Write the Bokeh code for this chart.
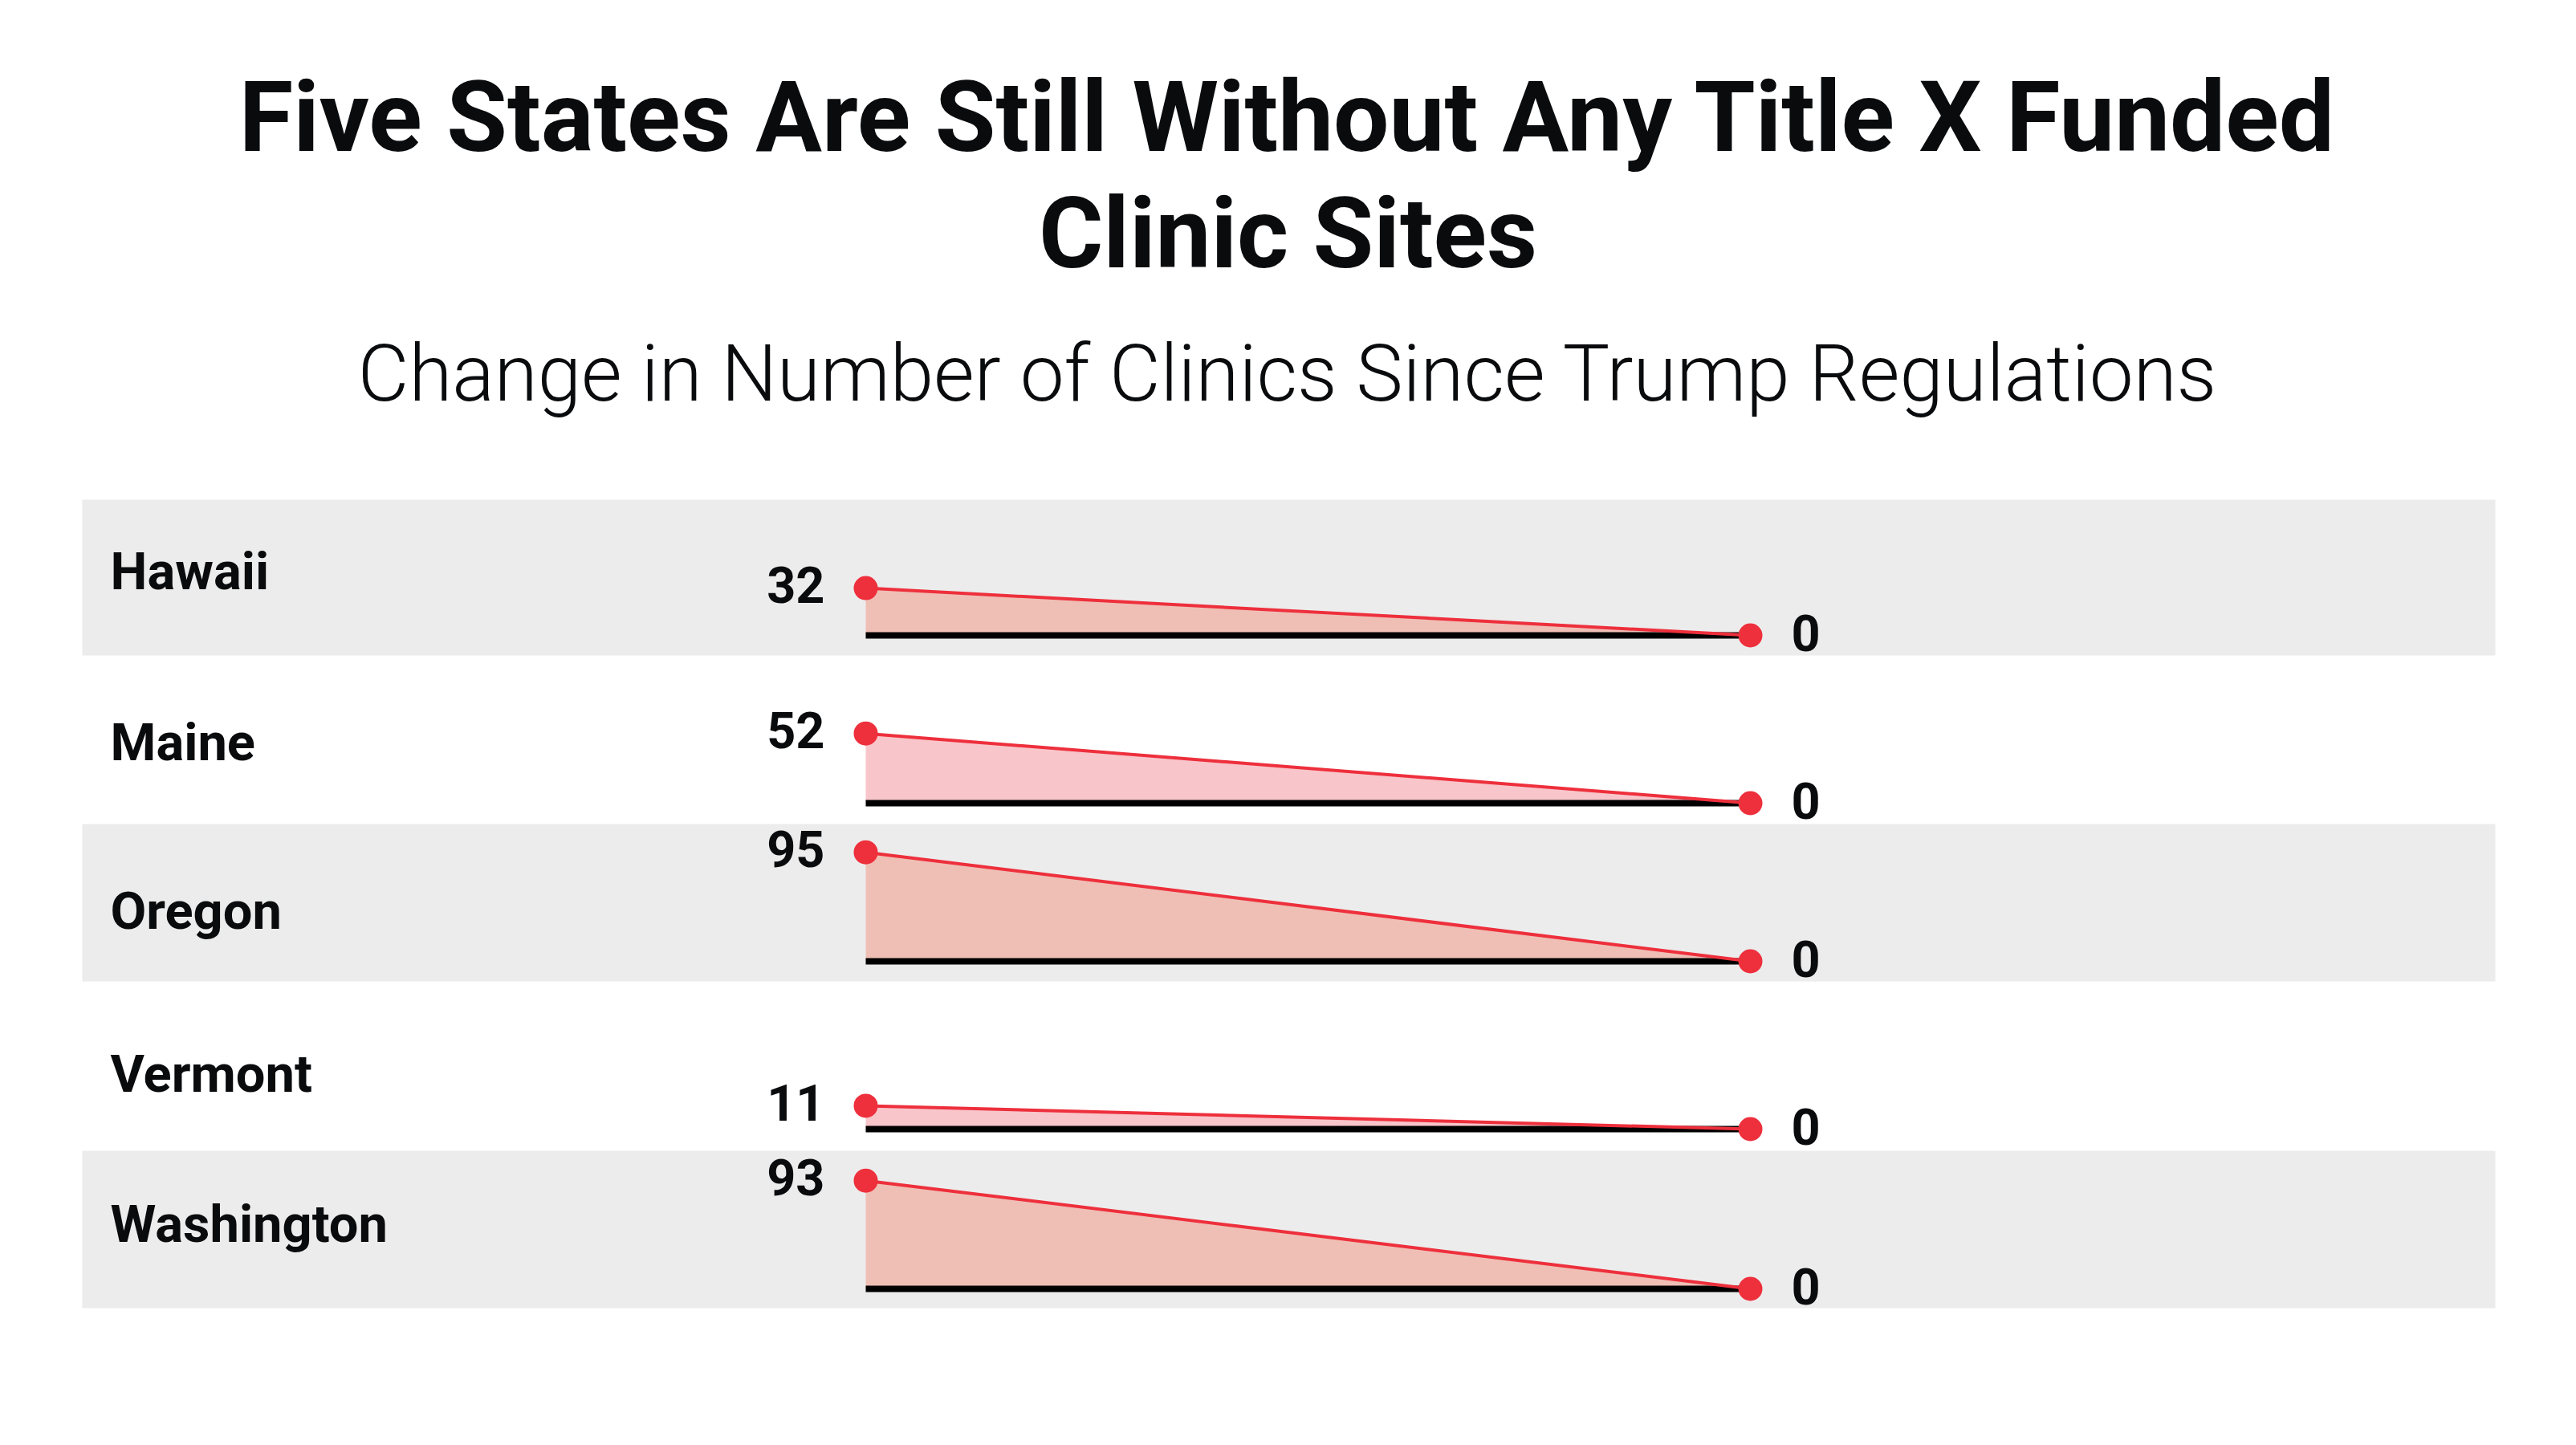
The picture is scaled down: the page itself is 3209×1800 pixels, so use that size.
from bokeh.plotting import figure
from bokeh.models import Range1d
from bokeh.core.properties import value
from bokeh.embed import file_html
from bokeh.resources import INLINE

# ---------------- data ----------------
states = ["Hawaii", "Maine", "Oregon", "Vermont", "Washington"]
clinics_before = [32, 52, 95, 11, 93]   # before the Trump regulations
clinics_after = [0, 0, 0, 0, 0]         # now
periods = [0, 1]                         # 0 = before, 1 = after

title_lines = ["Five States Are Still Without Any Title X Funded", "Clinic Sites"]
subtitle = "Change in Number of Clinics Since Trump Regulations"

# ---------------- layout / style ----------------
W, H = 3209, 1800
RED = "#ee2f3c"
GREY = "#ececec"
FILL_ON_GREY = "#efbfb5"
FILL_ON_WHITE = "#f8c5ca"
INK = "#0a0b0d"

band_tops = [622, 816, 1026, 1222, 1433, 1629]       # page px
baseline_px = [791, 1000, 1197, 1406, 1605]           # page px of zero line per row
px_per_clinic = [1.84, 1.67, 1.43, 2.64, 1.45]        # vertical scale per row
label_mid_px = [711, 924, 1134, 1337, 1524]           # state label centres
x0_px, x1_px = 1078, 2180                              # page px of the two periods

kx = (x1_px - x0_px)
xs = -x0_px / kx
p = figure(width=W, height=H, output_backend="svg", toolbar_location=None,
           min_border=0, x_range=Range1d(xs, xs + W / kx),
           y_range=Range1d(H, 0))
p.axis.visible = False
p.grid.visible = False
p.outline_line_color = None
p.background_fill_color = "white"
p.border_fill_color = "white"
p.extra_x_ranges = {"px": Range1d(0, W)}

# grey bands for alternate rows
for i in range(len(states)):
    if i % 2 == 0:
        p.quad(left=[102], right=[3108],
               top=[band_tops[i]], bottom=[band_tops[i + 1]],
               x_range_name="px", fill_color=GREY, line_color=None)

for i, st in enumerate(states):
    yb = baseline_px[i]
    k = px_per_clinic[i]
    rn = f"row{i}"
    p.extra_y_ranges[rn] = Range1d((yb - H) / k, yb / k)
    vals = [clinics_before[i], clinics_after[i]]
    fill = FILL_ON_GREY if i % 2 == 0 else FILL_ON_WHITE

    p.varea(x=periods, y1=[0, 0], y2=vals, fill_color=fill, y_range_name=rn)
    p.line(x=periods, y=[0, 0], line_color="black", line_width=8,
           y_range_name=rn)
    p.line(x=periods, y=vals, line_color=RED, line_width=4, y_range_name=rn)
    p.scatter(x=periods, y=vals, size=30, fill_color=RED, line_color=None,
              y_range_name=rn)

    p.text(x=[periods[0]], y=[vals[0]], text=[str(vals[0])], x_offset=-51,
           y_offset=-4, text_align="right", text_baseline="middle",
           text_font=value("Roboto"), text_font_style="bold",
           text_font_size="63px", text_color=INK, y_range_name=rn)
    p.text(x=[periods[1]], y=[vals[1]], text=[str(vals[1])], x_offset=51,
           y_offset=-3, text_align="left", text_baseline="middle",
           text_font=value("Roboto"), text_font_style="bold",
           text_font_size="63px", text_color=INK, y_range_name=rn)

    p.text(x=[137], y=[label_mid_px[i]], text=[st],
           x_range_name="px", text_align="left", text_baseline="middle",
           text_font=value("Roboto"), text_font_style="bold",
           text_font_size="65px", text_color=INK)

# title & subtitle
cx = 1604
p.text(x=[cx, cx], y=[145, 290], text=title_lines, x_range_name="px",
       text_align="center", text_baseline="middle",
       text_font=value("Roboto"), text_font_style="bold",
       text_font_size="123px", text_color=INK)
p.text(x=[cx], y=[465], text=[subtitle], x_range_name="px",
       text_align="center", text_baseline="middle",
       text_font=value("Roboto Light"), text_font_size="98px", text_color=INK)

open("out.html", "w").write(file_html(p, INLINE))
